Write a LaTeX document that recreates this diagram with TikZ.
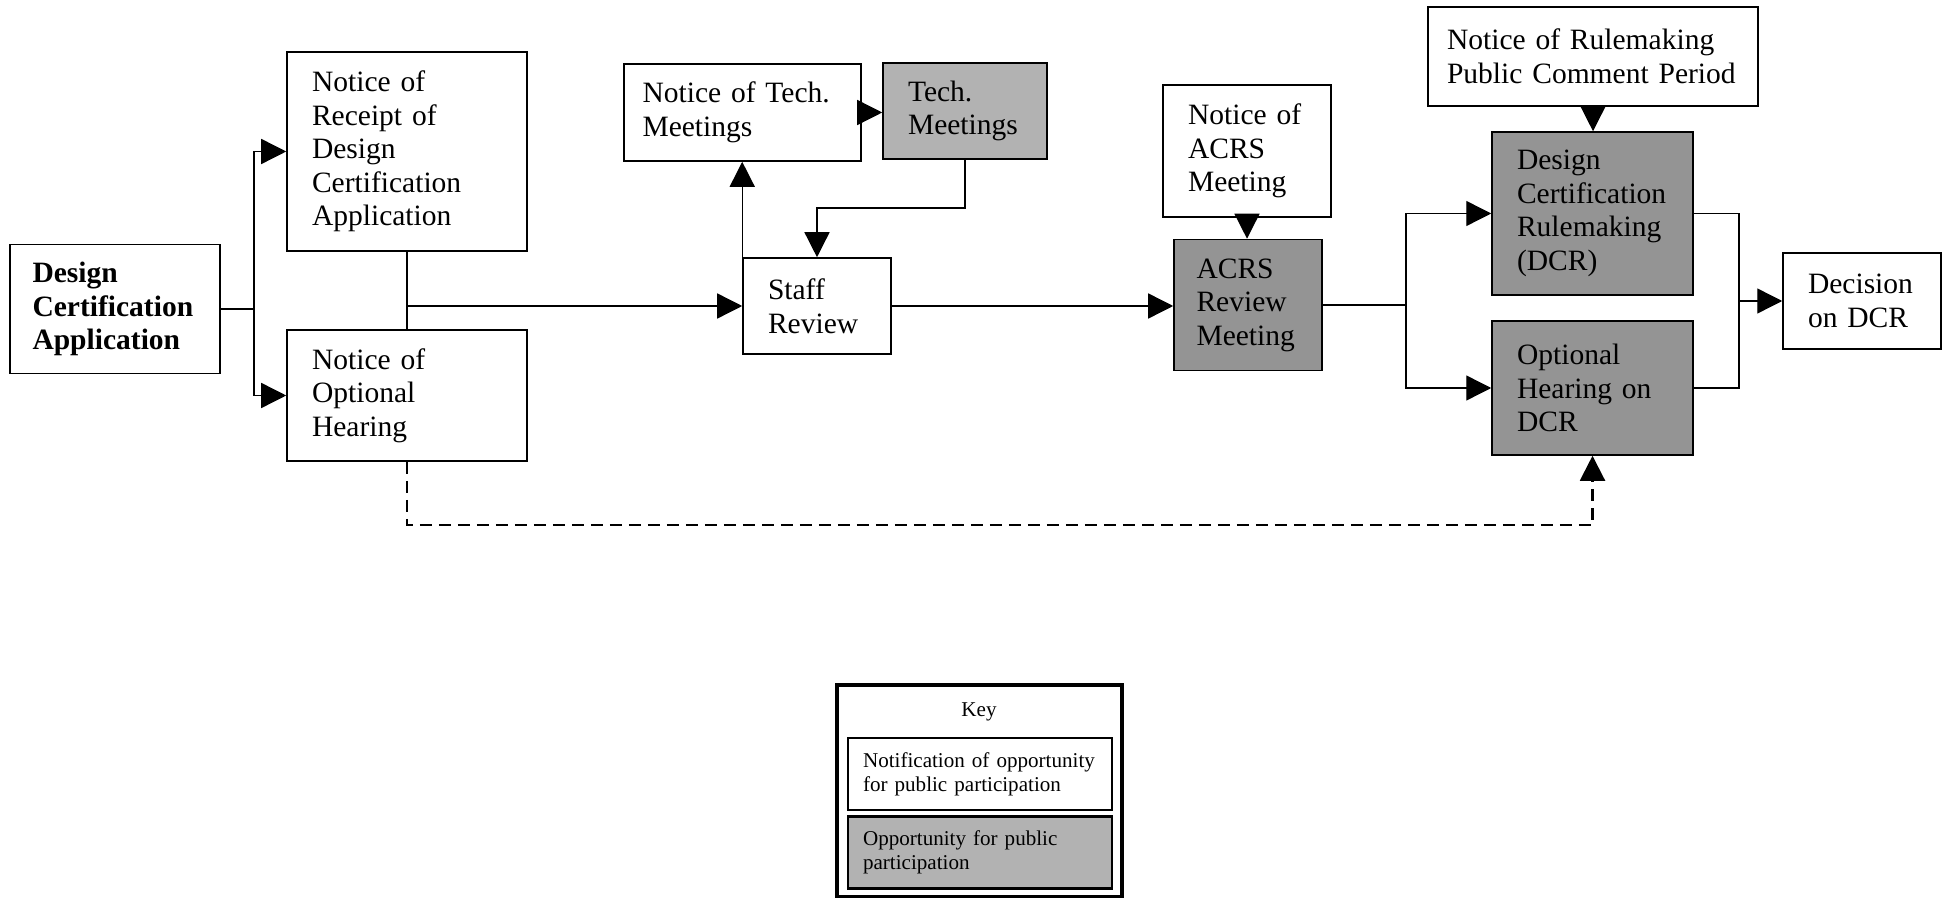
\documentclass[tikz,border=0pt]{standalone}
\usepackage{fontspec}
\setmainfont{Liberation Serif}
\usetikzlibrary{positioning,
        arrows.meta}
\definecolor{lightopp}{gray}{0.70}
\definecolor{darkopp}{gray}{0.58}

\begin{document}
\begin{tikzpicture}[x=0.02cm,y=-0.02cm,
    nbox/.style={draw,line width=0.9pt,align=left,inner xsep=0.5cm,inner ysep=0pt,
        font=\fontsize{16.8}{19.1}\selectfont},
    obox/.style={nbox,fill=darkopp},
    arr/.style={-{Triangle[length=0.5cm,width=0.5cm]},line width=0.8pt},
    keybox/.style={draw,line width=1.5pt,align=left,inner xsep=0.3cm,inner ysep=0pt,
        text width=4.68cm,minimum height=1.44cm,font=\fontsize{12}{13.6}\selectfont}]
            \useasboundingbox (0,0) rectangle (1950,898);

            \node [nbox,text width=3.3cm,inner xsep=0.45cm,minimum height=2.58cm,font=\fontsize{16.8}{19.1}\selectfont\bfseries] (dca) at (115,309) {Design\\Certification\\Application};
            \node [nbox,text width=3.8cm,minimum height=3.98cm] (receipt) at (407,151.5) {Notice of\\Receipt of\\Design\\Certification\\Application};
            \node [nbox,text width=3.8cm,minimum height=2.62cm] (optnotice) at (407,395.5) {Notice of\\Optional\\Hearing};
            \node [nbox,text width=4.0cm,inner xsep=0.37cm,minimum height=1.94cm] (technotice) at (742.5,112.5) {Notice of Tech.\\Meetings};
            \node [nbox,fill=lightopp,text width=2.28cm,minimum height=1.92cm] (techmeet) at (965,111) {Tech.\\Meetings};
            \node [nbox,text width=1.96cm,minimum height=1.92cm] (staff) at (817,306) {Staff\\Review};
            \node [nbox,text width=2.36cm,minimum height=2.64cm] (acrsnotice) at (1247,151) {Notice of\\ACRS\\Meeting};
            \node [obox,text width=2.06cm,inner xsep=0.45cm,minimum height=2.62cm] (acrs) at (1248,305) {ACRS\\Review\\Meeting};
            \node [nbox,text width=5.84cm,inner xsep=0.38cm,minimum height=1.98cm] (rulenotice) at (1593,56.5) {Notice of Rulemaking\\Public Comment Period};
            \node [obox,text width=3.02cm,minimum height=3.26cm] (dcr) at (1592.5,213.5) {Design\\Certification\\Rulemaking\\(DCR)};
            \node [obox,text width=3.02cm,minimum height=2.68cm] (ophear) at (1592.5,388) {Optional\\Hearing on\\DCR};
            \node [nbox,text width=2.16cm,minimum height=1.92cm] (decision) at (1862,301) {Decision\\on DCR};

            \coordinate (dcasplit) at (254,309);
            \coordinate (techbend) at (817,208);
            \coordinate (acrssplit) at (1406,305);
            \coordinate (dcrmerge) at (1739,301);

            \draw [line width=0.8pt] (dca.east) -- (dcasplit);
            \draw [arr] (dcasplit) |- (receipt.west);
            \draw [arr] (dcasplit) |- (optnotice.west);
            \draw [line width=0.8pt] (receipt.south) -- (optnotice.north);
            \draw [arr] (receipt.south |- staff.west) -- (staff.west);
            \draw [arr] (staff.north west) -- (staff.north west |- technotice.south);
            \draw [arr] (technotice.east) -- (technotice.east -| techmeet.west);
            \draw [arr] (techmeet.south) |- (techbend) -- (staff.north);
            \draw [arr] (staff.east) -- (staff.east -| acrs.west);
            \draw [arr] (acrsnotice.south) -- (acrsnotice.south |- acrs.north);
            \draw [line width=0.8pt] (acrs.east) -- (acrssplit);
            \draw [arr] (acrssplit) |- (dcr.west);
            \draw [arr] (acrssplit) |- (ophear.west);
            \draw [arr] (rulenotice.south) -- (rulenotice.south |- dcr.north);
            \draw [line width=0.8pt] (dcr.east) -| (dcrmerge);
            \draw [line width=0.8pt] (ophear.east) -| (dcrmerge);
            \draw [arr] (dcrmerge) -- (decision.west);
            \draw [arr,line width=1.2pt,dash pattern=on 0.24cm off 0.14cm] (optnotice.south) -- ++(0,63) -| (ophear.south);

            \node [draw,line width=2.2pt,minimum width=5.7cm,minimum height=4.24cm] (keyframe) at (979.5,791) {};
            \node [font=\fontsize{12}{13.6}\selectfont] (keytitle) at (979,712) {Key};
            \node [keybox] (keynote) at (980,774) {Notification of opportunity\\for public participation};
            \node [keybox,fill=lightopp] (keyopp) at (980,852.5) {Opportunity for public\\participation};
        \end{tikzpicture}
\end{document}
